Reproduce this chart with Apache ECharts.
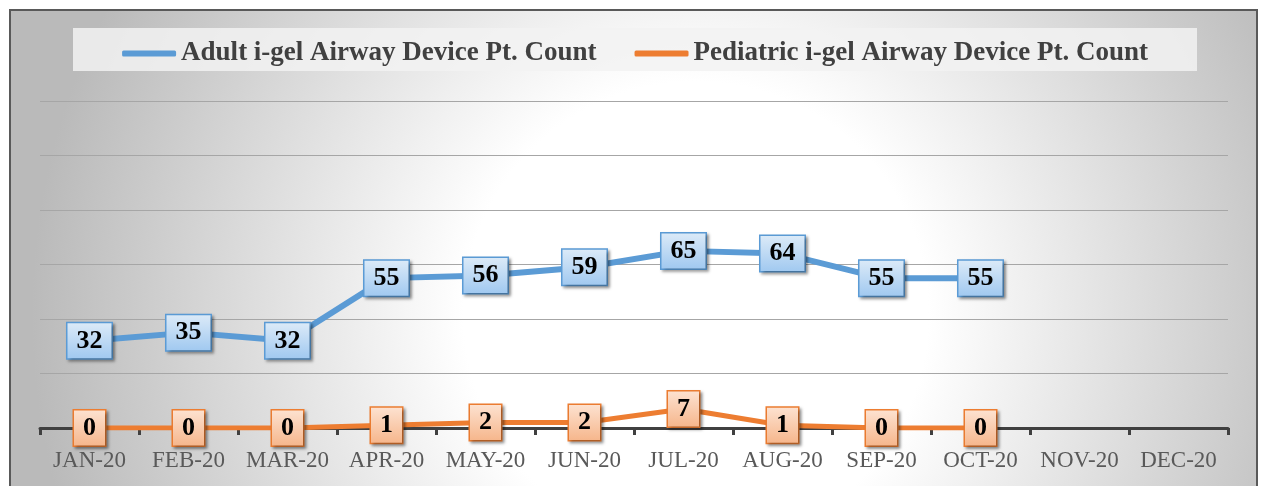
<!DOCTYPE html>
<html>
<head>
<meta charset="utf-8">
<script src="https://cdn.jsdelivr.net/npm/echarts@6/dist/echarts.min.js"></script>
<style>
html,body{margin:0;padding:0;background:#fff;}
#chart{width:1270px;height:486px;}
</style>
</head>
<body>
<div id="chart"></div>
<script>
var months = ['JAN-20','FEB-20','MAR-20','APR-20','MAY-20','JUN-20','JUL-20','AUG-20','SEP-20','OCT-20','NOV-20','DEC-20'];
var adultCount = [32, 35, 32, 55, 56, 59, 65, 64, 55, 55, null, null];
var pediatricCount = [0, 0, 0, 1, 2, 2, 7, 1, 0, 0, null, null];
var adultName = 'Adult i-gel Airway Device Pt. Count';
var pediatricName = 'Pediatric i-gel Airway Device Pt. Count';

var serif = '"Liberation Serif", "DejaVu Serif", serif';

// label box like the excel callouts
function boxLabel(top, bottom, border){
    return {
        show: true,
        position: 'inside',
        fontFamily: serif,
        fontWeight: 'bold',
        fontSize: 26,
        lineHeight: 26,
        color: '#000',
        padding: [5, 9, 4, 9],
        borderColor: border,
        borderWidth: 1.5,
        backgroundColor: {
            type: 'linear', x: 0, y: 0, x2: 0, y2: 1,
            colorStops: [{offset: 0, color: top}, {offset: 1, color: bottom}]
        },
        shadowColor: 'rgba(0,0,0,0.35)',
        shadowBlur: 3,
        shadowOffsetX: 2,
        shadowOffsetY: 2
    }
}

var myChart = echarts.init(document.getElementById('chart'));
var option = {
    animation: false,
    graphic: [
        {
            type: 'rect', z: -10,
            shape: {x: 10, y: 10, width: 1247, height: 490},
            style: {
                fill: {
                    type: 'radial', x: 0.55, y: 0.62, r: 1.35,
                    colorStops: [
                        {offset: 0, color: '#ffffff'},
                        {offset: 0.35, color: '#ffffff'},
                        {offset: 1, color: '#bababa'}
                    ]
                },
                stroke: '#595959',
                lineWidth: 2
            }
        },
        {
            type: 'rect', z: -5,
            shape: {x: 73, y: 28, width: 1124, height: 43},
            style: {fill: 'rgba(242,242,242,0.85)'}
        }
    ],
    legend: {
        data: [adultName, pediatricName],
        left: 'center',
        top: 35,
        icon: 'roundRect',
        itemWidth: 54,
        itemHeight: 6,
        itemGap: 38,
        textStyle: {
            fontFamily: serif,
            fontWeight: 'bold',
            fontSize: 27,
            color: '#404040'
        }
    },
    grid: {
        left: 40,
        right: 42,
        top: 101,
        bottom: 58
    },
    xAxis: {
        type: 'category',
        data: months,
        boundaryGap: true,
        axisLine: {lineStyle: {color: '#404040', width: 3}},
        axisTick: {show: true, length: 7, lineStyle: {color: '#404040', width: 3}},
        axisLabel: {
            interval: 0,
            margin: 21,
            fontFamily: serif,
            fontSize: 23,
            color: '#595959'
        }
    },
    yAxis: {
        type: 'value',
        min: 0,
        max: 120,
        interval: 20,
        axisLine: {show: false},
        axisTick: {show: false},
        axisLabel: {show: false},
        splitLine: {lineStyle: {color: '#a6a6a6', width: 1}}
    },
    series: [
        {
            name: adultName,
            type: 'line',
            data: adultCount,
            symbol: 'circle',
            symbolSize: 2,
            lineStyle: {color: '#5b9bd5', width: 6},
            itemStyle: {color: '#5b9bd5'},
            label: boxLabel('#ddebf8', '#9fc8f0', '#5b9bd5'),
            z: 3
        },
        {
            name: pediatricName,
            type: 'line',
            data: pediatricCount,
            symbol: 'circle',
            symbolSize: 2,
            lineStyle: {color: '#ed7d31', width: 5},
            itemStyle: {color: '#ed7d31'},
            label: boxLabel('#fde3d2', '#f6b58a', '#ed7d31'),
            z: 4
        }
    ]
};
myChart.setOption(option);
</script>
</body>
</html>
